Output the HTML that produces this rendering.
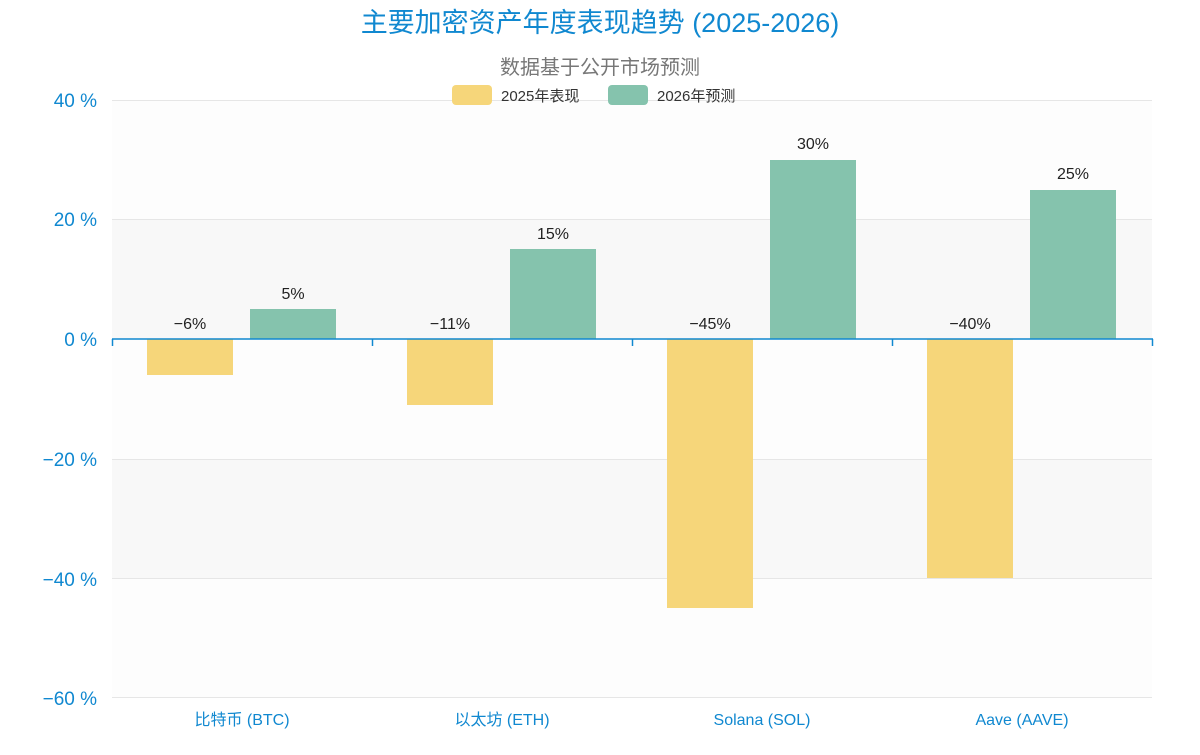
<!DOCTYPE html>
<html><head><meta charset="utf-8"><style>
html,body{margin:0;padding:0;background:#fff;}
svg text{font-family:"Liberation Sans","Noto Sans CJK SC",sans-serif;}
</style></head><body>
<svg width="1200" height="750" xmlns="http://www.w3.org/2000/svg">
<rect width="1200" height="750" fill="#fff"/>
<!-- bands -->
<rect x="112" y="100" width="1040" height="119.5" fill="#fdfdfd"/>
<rect x="112" y="219.5" width="1040" height="119.5" fill="#f8f8f8"/>
<rect x="112" y="339" width="1040" height="120" fill="#fdfdfd"/>
<rect x="112" y="459" width="1040" height="119.5" fill="#f8f8f8"/>
<rect x="112" y="578.5" width="1040" height="119.5" fill="#fdfdfd"/>
<g stroke="#e6e6e6" stroke-width="1">
<line x1="112" x2="1152" y1="100.5" y2="100.5"/>
<line x1="112" x2="1152" y1="219.5" y2="219.5"/>
<line x1="112" x2="1152" y1="459.5" y2="459.5"/>
<line x1="112" x2="1152" y1="578.5" y2="578.5"/>
<line x1="112" x2="1152" y1="697.5" y2="697.5"/>
</g>
<text x="600" y="32" text-anchor="middle" font-size="27" fill="#1088d0">主要加密资产年度表现趋势 (2025-2026)</text>
<text x="600" y="74" text-anchor="middle" font-size="20" fill="#777">数据基于公开市场预测</text>
<rect x="452" y="85" width="40" height="20" rx="4" fill="#f6d67a"/>
<text x="501" y="101" font-size="15" fill="#333">2025年表现</text>
<rect x="608" y="85" width="40" height="20" rx="4" fill="#85c3ad"/>
<text x="657" y="101" font-size="15" fill="#333">2026年预测</text>
<g font-size="19" fill="#1088d0" text-anchor="end">
<text x="97" y="107">40 %</text>
<text x="97" y="226">20 %</text>
<text x="97" y="346">0 %</text>
<text x="97" y="466">−20 %</text>
<text x="97" y="586">−40 %</text>
<text x="97" y="705">−60 %</text>
</g>
<g fill="#f6d67a">
<rect x="147" y="339" width="86" height="36"/>
<rect x="407" y="339" width="86" height="66"/>
<rect x="667" y="339" width="86" height="269"/>
<rect x="927" y="339" width="86" height="239"/>
</g>
<g fill="#85c3ad">
<rect x="250" y="309" width="86" height="30"/>
<rect x="510" y="249" width="86" height="90"/>
<rect x="770" y="160" width="86" height="179"/>
<rect x="1030" y="190" width="86" height="149"/>
</g>
<g stroke="#1088d0" stroke-width="1.5">
<line x1="112" x2="1153" y1="339" y2="339"/>
<line x1="112.5" x2="112.5" y1="339" y2="346"/>
<line x1="372.5" x2="372.5" y1="339" y2="346"/>
<line x1="632.5" x2="632.5" y1="339" y2="346"/>
<line x1="892.5" x2="892.5" y1="339" y2="346"/>
<line x1="1152.5" x2="1152.5" y1="339" y2="346"/>
</g>
<g font-size="16" fill="#222" text-anchor="middle">
<text x="190" y="329">−6%</text>
<text x="293" y="299">5%</text>
<text x="450" y="329">−11%</text>
<text x="553" y="239">15%</text>
<text x="710" y="329">−45%</text>
<text x="813" y="149">30%</text>
<text x="970" y="329">−40%</text>
<text x="1073" y="179">25%</text>
</g>
<g font-size="16" fill="#1088d0" text-anchor="middle">
<text x="242" y="725">比特币 (BTC)</text>
<text x="502" y="725">以太坊 (ETH)</text>
<text x="762" y="725">Solana (SOL)</text>
<text x="1022" y="725">Aave (AAVE)</text>
</g>
</svg>
</body></html>
